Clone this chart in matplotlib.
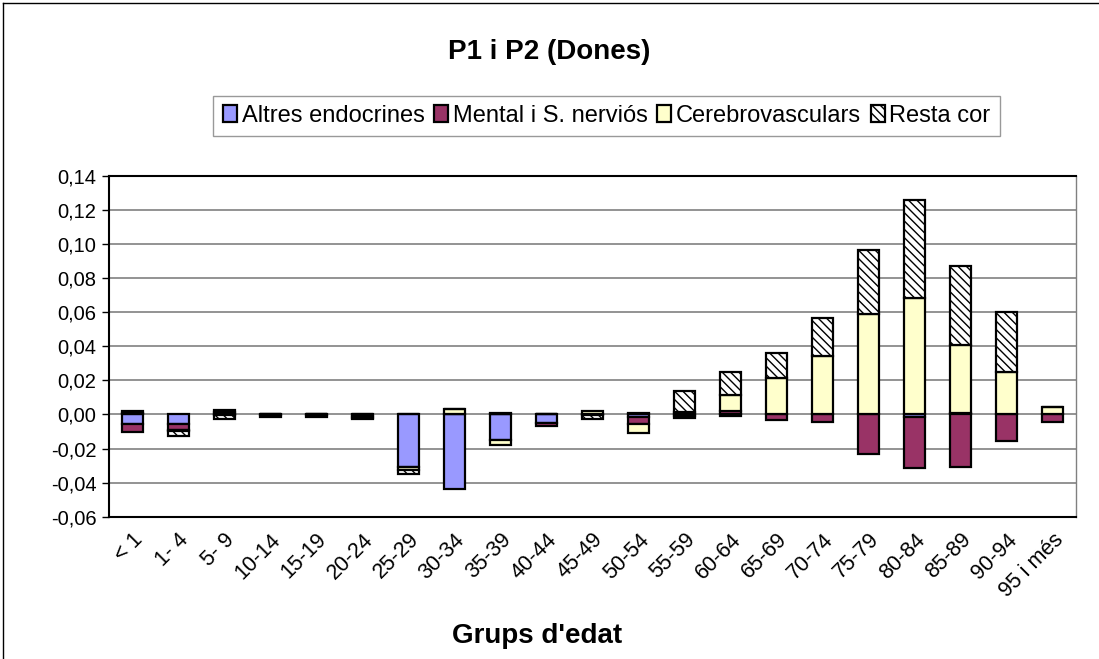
import numpy as np
import matplotlib
matplotlib.use("Agg")
import matplotlib.pyplot as plt
from matplotlib.ticker import FuncFormatter, MultipleLocator
from matplotlib.lines import Line2D

plt.rcParams["font.family"] = ["Liberation Sans", "DejaVu Sans"]
plt.rcParams["hatch.linewidth"] = 1.0

CATEGORIES = ["< 1", "1- 4", "5- 9", "10-14", "15-19", "20-24", "25-29", "30-34",
              "35-39", "40-44", "45-49", "50-54", "55-59", "60-64", "65-69",
              "70-74", "75-79", "80-84", "85-89", "90-94", "95 i més"]

ENDOCRINES = [-0.0058, -0.0059, 0.0015, -0.0005, -0.0005, 0.0005, -0.031, -0.0435,
              -0.015, -0.0053, -0.0005, -0.0015, -0.001, -0.001, 0.0003, 0.0,
              0.0, -0.0015, 0.001, 0.0, 0.0]
MENTAL = [-0.0047, -0.003, 0.001, 0.0005, 0.0005, -0.001, 0.0, 0.0,
          0.0005, -0.0013, 0.0, -0.004, -0.001, 0.0018, -0.0033, -0.0047,
          -0.0235, -0.030, -0.0306, -0.0153, -0.0045]
CEREBRO = [0.001, -0.001, -0.0005, -0.0008, -0.0008, -0.001, -0.0017, 0.003,
           -0.003, 0.0, 0.002, -0.0055, 0.0015, 0.0095, 0.021, 0.034,
           0.0586, 0.068, 0.040, 0.0247, 0.0045]
RESTA_COR = [0.001, -0.0028, -0.002, 0.0, 0.0, -0.0005, -0.0025, 0.0,
             0.0005, 0.0, -0.002, 0.001, 0.0125, 0.0133, 0.0145, 0.0226,
             0.038, 0.058, 0.046, 0.0353, 0.0]

SERIES = [ENDOCRINES, MENTAL, CEREBRO, RESTA_COR]
LABELS = ["Altres endocrines", "Mental i S. nerviós", "Cerebrovasculars", "Resta cor"]
COLORS = ["#9999FF", "#993366", "#FFFFCC", "#FFFFFF"]
HATCHES = [None, None, None, "\\\\\\\\"]


def fmt_comma(v, pos):
    if abs(v) < 1e-9:
        v = 0.0
    return f"{v:.2f}".replace(".", ",")


fig = plt.figure(figsize=(10.99, 6.59), dpi=100)
ax = fig.add_axes([0.0992, 0.2159, 0.8798, 0.5175])

x = np.arange(len(CATEGORIES))
pos_base = np.zeros(len(CATEGORIES))
neg_base = np.zeros(len(CATEGORIES))
for vals, label, color, hatch in zip(SERIES, LABELS, COLORS, HATCHES):
    vals = np.array(vals)
    bottoms = np.where(vals >= 0, pos_base, neg_base)
    ax.bar(x, vals, width=0.4545, bottom=bottoms, color=color, edgecolor="black",
           linewidth=1.6, hatch=hatch, label=label, zorder=3)
    pos_base += np.where(vals >= 0, vals, 0)
    neg_base += np.where(vals < 0, vals, 0)

ax.set_xlim(-0.5, len(CATEGORIES) - 0.5)
ax.set_ylim(-0.06, 0.14)
ax.yaxis.set_major_locator(MultipleLocator(0.02))
ax.yaxis.set_major_formatter(FuncFormatter(fmt_comma))
ax.grid(axis="y", color="#808080", linewidth=1.2, zorder=0)
ax.tick_params(axis="y", direction="out", length=5, width=1, labelsize=14.5, pad=4)
ax.tick_params(axis="x", length=0, labelsize=15.5, pad=9)
ax.set_xticks(x)
ax.set_xticklabels(CATEGORIES, rotation=45, ha="right", va="top", rotation_mode="anchor")

for side in ["left", "bottom", "top"]:
    ax.spines[side].set_color("black")
    ax.spines[side].set_linewidth(1.5)
ax.spines["right"].set_color("#808080")
ax.spines["right"].set_linewidth(1)

fig.text(0.5, 0.921, "P1 i P2 (Dones)", ha="center", va="center",
         fontsize=20, fontweight="bold")
fig.text(0.489, 0.035, "Grups d'edat", ha="center", va="center",
         fontsize=20, fontweight="bold")

leg = fig.legend(loc="center", bbox_to_anchor=(0.552, 0.824), ncol=4, fontsize=17,
                 frameon=True, fancybox=False, shadow=False, handlelength=0.6,
                 handleheight=0.75, handletextpad=0.2, columnspacing=0.4,
                 borderpad=0.4, borderaxespad=0)
leg.get_frame().set_edgecolor("#808080")
leg.get_frame().set_linewidth(1)

fig.add_artist(Line2D([0.003, 0.003], [0.0, 0.995], color="black", linewidth=1))
fig.add_artist(Line2D([0.003, 1.0], [0.995, 0.995], color="black", linewidth=1))

fig.savefig("out.png", dpi=100)
